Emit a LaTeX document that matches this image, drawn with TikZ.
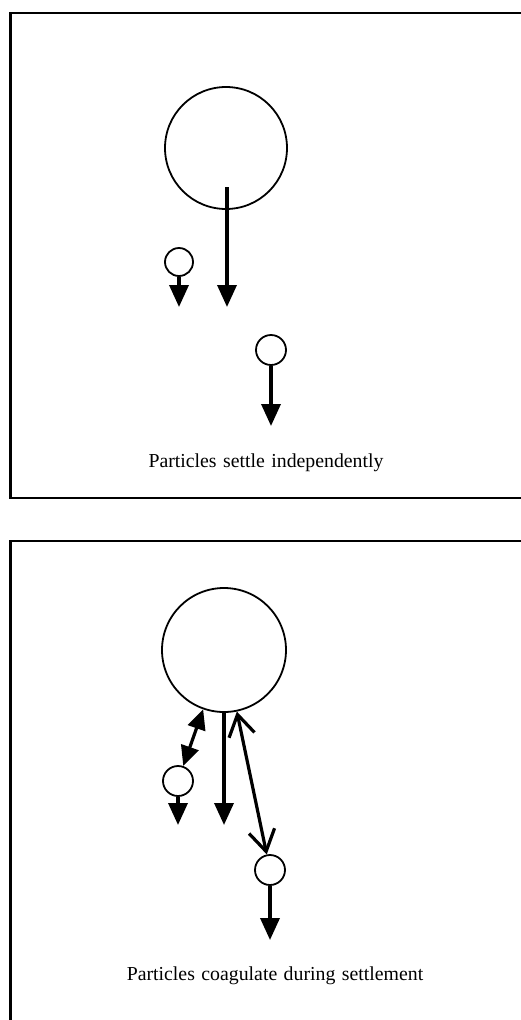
\documentclass[tikz,border=0pt]{standalone}
\usepackage{fontspec}
\setmainfont[WordSpace=1.3]{Liberation Serif}
\usepackage{tikz}
\usetikzlibrary{arrows.meta}

\begin{document}
\begin{tikzpicture}[x=1pt, y=-1pt,
  grain/.style={circle, draw=black, line width=1.8pt, inner sep=0pt},
  fall/.style={-{Triangle[length=22pt, width=19pt]}, line width=3.5pt},
  stick/.style={{Triangle[length=20pt, width=18pt]}-{Triangle[length=20pt, width=18pt]}, line width=3.2pt},
  pull/.style={{Straight Barb[length=21pt, width=26pt]}-{Straight Barb[length=21pt, width=26pt]}, line width=3.2pt},
  caption/.style={font=\fontsize{19.8}{22}\selectfont}]
\clip (0,0) rectangle (521,1020);
\draw [line width=2.4pt] (10.5,13) rectangle (560,498);
\draw [line width=2.4pt] (10.5,541) rectangle (560,1060);

% independent settling
\node [grain, minimum size=122pt] (B1) at (226,148) {};
\node [grain, minimum size=28pt] (S1) at (179,262) {};
\node [grain, minimum size=30pt] (T1) at (271,350) {};
\coordinate (b1) at (227,187);
\coordinate (b1end) at (227,307);
\coordinate (s1end) at (179,307);
\coordinate (t1end) at (271,426);
\draw [fall] (b1) to (b1end);
\draw [fall] (S1) to (s1end);
\draw [fall] (T1) to (t1end);
\node [caption] (cap1) at (266,463) {Particles settle independently};

% coagulation during settling
\node [grain, minimum size=124pt] (B2) at (224,650) {};
\node [grain, minimum size=30pt] (S2) at (178,781) {};
\node [grain, minimum size=30pt] (T2) at (270,870) {};
\coordinate (b2end) at (224,825);
\coordinate (s2end) at (178,825);
\coordinate (t2end) at (270,940);
\draw [fall] (B2) to (b2end);
\draw [fall] (S2) to (s2end);
\draw [fall] (T2) to (t2end);
\draw [stick] (S2) to (B2);
\draw [pull] (T2) to (B2);
\node [caption] (cap2) at (275,976) {Particles coagulate during settlement};
\end{tikzpicture}
\end{document}
